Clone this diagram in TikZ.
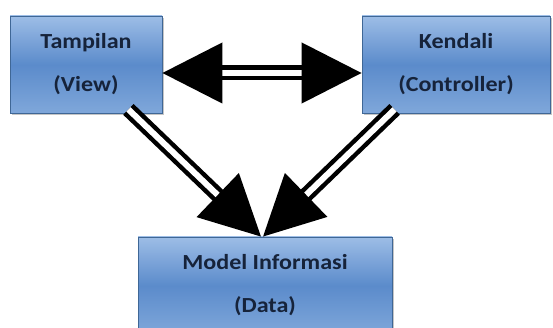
\documentclass[tikz,border=0pt]{standalone}
\usepackage{fontspec}
\newfontfamily\boxfont[FakeStretch=1.12]{Carlito}
\usetikzlibrary{arrows.meta,shadows}
\definecolor{boxtop}{HTML}{9DBDE6}
\definecolor{boxmid}{HTML}{5B8BCB}
\definecolor{boxbot}{HTML}{7FA7DA}
\definecolor{boxline}{HTML}{3F6796}
\definecolor{boxtext}{HTML}{16233A}

\begin{document}
\begin{tikzpicture}[x=1pt, y=-1pt,
    box/.style={
        rectangle,
        draw=boxline,
        line width=0.8pt,
        top color=boxtop,
        bottom color=boxbot,
        middle color=boxmid,
        drop shadow={shadow xshift=1.5pt, shadow yshift=-2pt, fill=black!45},
        text=boxtext,
        align=center,
        inner sep=0pt,
        minimum height=97pt,
        font=\boxfont\bfseries\fontsize{21.5}{43}\selectfont
    },
    bigarrow/.style={
        double=white,
        double distance=6pt,
        line width=4.5pt,
        -{Triangle[length=60pt, width=60pt]}
    }]
    \useasboundingbox (0,0) rectangle (553,328);
    \clip (0,0) rectangle (553,328);

    \node (view) [box, minimum width=152pt, shift={(86, 64.5)}]
    {
        Tampilan\\(View)
    };

    \node (controller) [box, minimum width=188pt, shift={(456, 64.5)}]
    {
        Kendali\\(Controller)
    };

    \node (model) [box, minimum width=254pt, shift={(265, 285.5)}]
    {
        Model Informasi\\(Data)
    };


    \draw[bigarrow, {Triangle[length=60pt, width=60pt]}-{Triangle[length=60pt, width=60pt]}]
        ([yshift=-8.5pt]view.east) to ([yshift=-8.5pt]controller.west);

    \draw[bigarrow] ([xshift=-34pt, yshift=4pt]view.south east) to ([xshift=-4pt]model.north);
    \draw[bigarrow] ([xshift=33pt, yshift=4pt]controller.south west) to ([xshift=-2pt]model.north);
\end{tikzpicture}
\end{document}
